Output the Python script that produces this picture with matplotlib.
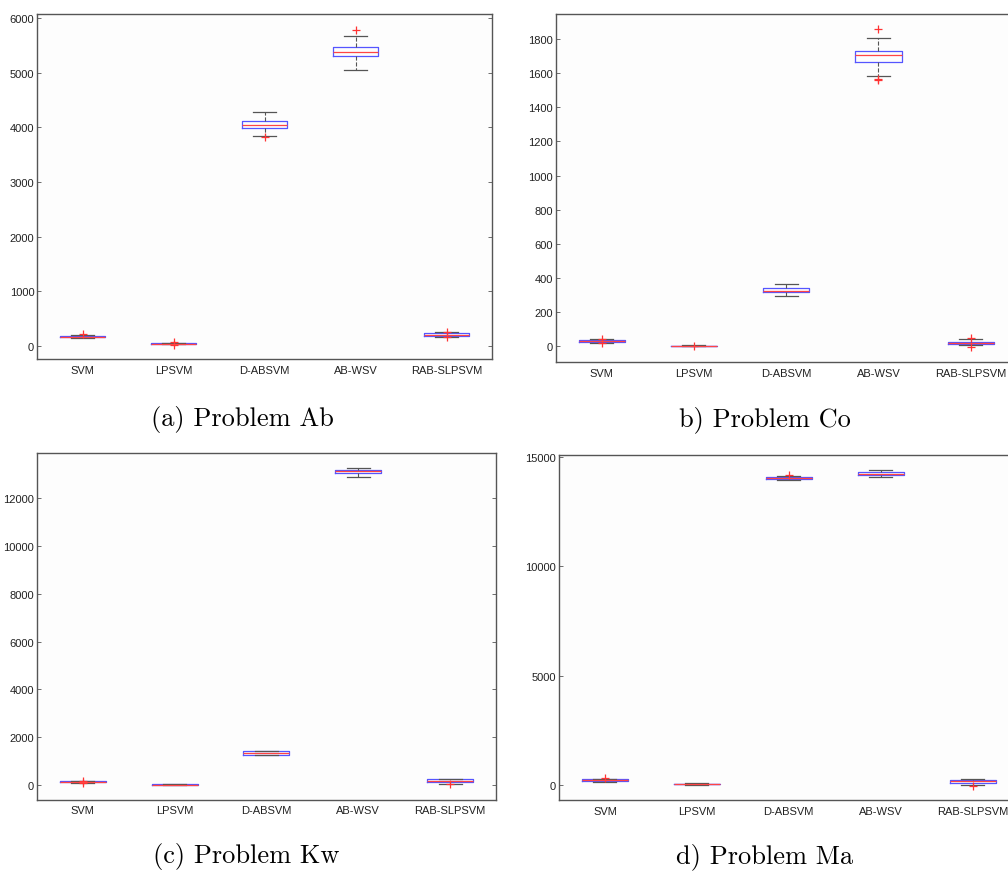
import numpy as np
import matplotlib
matplotlib.use('Agg')
import matplotlib.pyplot as plt

# methods on the x axis
methods = ['SVM', 'LPSVM', 'D-ABSVM', 'AB-WSV', 'RAB-SLPSVM']

# box summaries per problem: q1, median, q3, lower whisker, upper whisker, outliers
ab_q1 = [155, 35, 3985, 5307, 177]
ab_med = [170, 40, 4040, 5387, 208]
ab_q3 = [185, 45, 4113, 5479, 240]
ab_lo = [140, 30, 3845, 5058, 170]
ab_hi = [200, 50, 4283, 5673, 260]
ab_out = [[225], [70, 15], [3815], [5777], [250, 160]]

co_q1 = [28, 0, 317, 1667, 15]
co_med = [33, 2, 326, 1707, 22]
co_q3 = [38, 4, 340, 1730, 28]
co_lo = [22, -1, 293, 1581, 5]
co_hi = [42, 5, 364, 1808, 40]
co_out = [[45, 20], [0], [], [1857, 1568, 1560], [47, -5]]

kw_q1 = [100, 0, 1245, 13055, 100]
kw_med = [120, 5, 1329, 13140, 170]
kw_q3 = [150, 10, 1413, 13195, 220]
kw_lo = [80, -5, 1230, 12914, 40]
kw_hi = [170, 15, 1420, 13279, 250]
kw_out = [[170, 50], [], [], [], [10]]

ma_q1 = [170, 10, 14010, 14193, 60]
ma_med = [215, 30, 14056, 14253, 155]
ma_q3 = [260, 50, 14117, 14316, 230]
ma_lo = [140, 0, 13978, 14087, 0]
ma_hi = [280, 60, 14160, 14437, 280]
ma_out = [[300], [], [14170], [], [-40]]

captions = ['(a) Problem Ab', 'b) Problem Co', '(c) Problem Kw', 'd) Problem Ma']
yticks_list = [[0, 1000, 2000, 3000, 4000, 5000, 6000],
               [0, 200, 400, 600, 800, 1000, 1200, 1400, 1600, 1800],
               [0, 2000, 4000, 6000, 8000, 10000, 12000],
               [0, 5000, 10000, 15000]]
ylims = [(-240, 6075), (-92, 1947), (-630, 13900), (-701, 15119)]

W, H = 1008, 878
fig = plt.figure(figsize=(W / 100, H / 100), dpi=100)

# axes boxes in pixels: left, top, right, bottom
boxes = [(37, 15, 492, 360), (555.6, 15, 1016.8, 363),
         (36.8, 454, 496, 800.7), (559, 455.7, 1018.6, 801)]
cap_pos = [(242, 420), (765, 420), (246, 857), (765, 857)]

data = [(ab_q1, ab_med, ab_q3, ab_lo, ab_hi, ab_out),
        (co_q1, co_med, co_q3, co_lo, co_hi, co_out),
        (kw_q1, kw_med, kw_q3, kw_lo, kw_hi, kw_out),
        (ma_q1, ma_med, ma_q3, ma_lo, ma_hi, ma_out)]

for k in range(4):
    l, t, r, b = boxes[k]
    ax = fig.add_axes([l / W, 1 - b / H, (r - l) / W, (b - t) / H])
    ax.set_facecolor('#fdfdfd')
    q1, med, q3, lo, hi, out = data[k]
    stats = []
    for i in range(5):
        stats.append(dict(q1=q1[i], med=med[i], q3=q3[i],
                          whislo=lo[i], whishi=hi[i], fliers=out[i]))
    ax.bxp(stats, positions=range(1, 6), widths=0.5, capwidths=0.25,
           boxprops=dict(color='#5555ff', linewidth=0.9),
           medianprops=dict(color='#ff4444', linewidth=0.9),
           whiskerprops=dict(color='#555555', linewidth=0.8, linestyle='--'),
           capprops=dict(color='#555555', linewidth=0.9),
           flierprops=dict(marker='+', markeredgecolor='#ff3333',
                           markersize=6, markeredgewidth=0.9))
    ax.set_xlim(0.5, 5.5)
    ax.set_ylim(*ylims[k])
    ax.set_xticks(range(1, 6))
    ax.set_xticklabels(methods, fontsize=8, family='Liberation Sans', color='#222222')
    ax.set_yticks(yticks_list[k])
    ax.set_yticklabels([str(v) for v in yticks_list[k]], fontsize=8,
                       family='Liberation Sans', color='#222222')
    ax.tick_params(axis='x', length=0, pad=4)
    ax.tick_params(axis='y', direction='in', length=3, pad=2, right=True,
                   color='#555555', width=0.6)
    for s in ax.spines.values():
        s.set_color('#555555')
        s.set_linewidth(1.0)
    fig.text(cap_pos[k][0] / W, 1 - cap_pos[k][1] / H, captions[k],
             fontsize=19, family='cmr10', ha='center', va='center')

fig.savefig('out.png', dpi=100, facecolor='white')
